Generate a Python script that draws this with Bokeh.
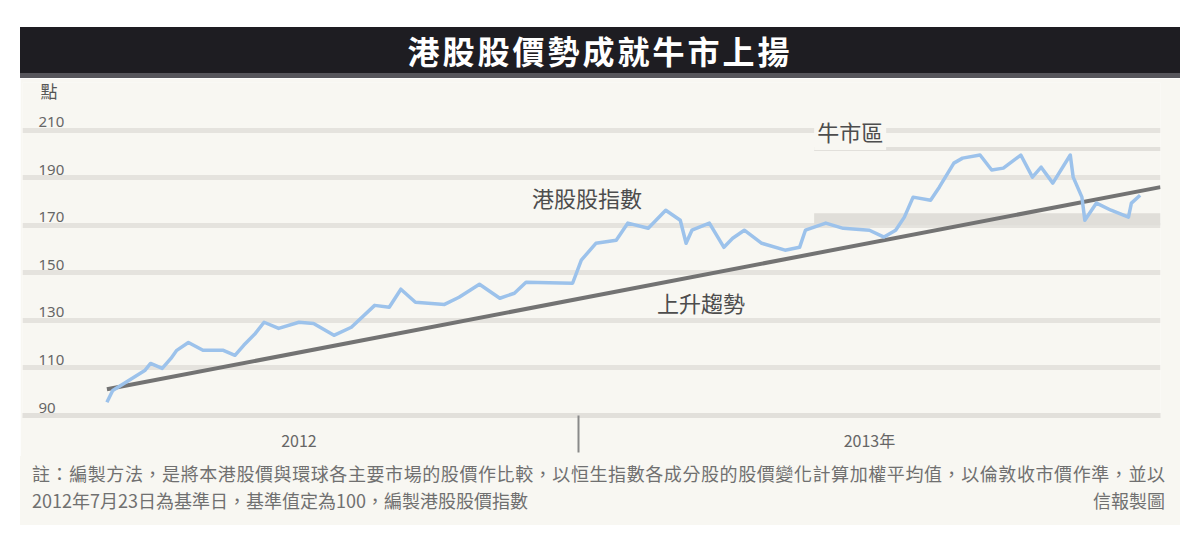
import pandas as pd
from bokeh.plotting import figure
from bokeh.models import Range1d, LinearAxis, FixedTicker, Grid, Label, Div, Spacer
from bokeh.layouts import column, row
from bokeh.core.properties import value
from bokeh.embed import file_html
from bokeh.resources import INLINE

# ---------------- data ----------------
title_text = "港股股價勢成就牛市上揚"
unit_label = "點"
base_date = "2012-07-23"

index_dates = [
    "2012-07-23", "2012-07-25", "2012-08-05", "2012-08-07", "2012-08-11", "2012-08-14",
    "2012-08-16", "2012-08-20", "2012-08-25", "2012-09-01", "2012-09-05", "2012-09-08",
    "2012-09-12", "2012-09-15", "2012-09-20", "2012-09-27", "2012-10-02", "2012-10-09",
    "2012-10-15", "2012-10-23", "2012-10-28", "2012-11-01", "2012-11-06", "2012-11-16",
    "2012-11-21", "2012-11-28", "2012-12-05", "2012-12-10", "2012-12-14", "2012-12-30",
    "2013-01-02", "2013-01-07", "2013-01-14", "2013-01-18", "2013-01-25", "2013-01-31",
    "2013-02-05", "2013-02-07", "2013-02-09", "2013-02-15", "2013-02-20", "2013-02-23",
    "2013-02-27", "2013-03-05", "2013-03-13", "2013-03-18", "2013-03-20", "2013-03-27",
    "2013-04-02", "2013-04-11", "2013-04-16", "2013-04-20", "2013-04-23", "2013-04-26",
    "2013-05-02", "2013-05-05", "2013-05-10", "2013-05-13", "2013-05-19", "2013-05-23",
    "2013-05-27", "2013-06-02", "2013-06-06", "2013-06-09", "2013-06-13", "2013-06-19",
    "2013-06-20", "2013-06-23", "2013-06-24", "2013-06-28", "2013-07-03", "2013-07-09",
    "2013-07-10", "2013-07-13",
]
index_values = [
    95.6, 100.5, 108.9, 111.9, 109.8, 114.0,
    117.4, 120.7, 117.4, 117.4, 115.3, 119.5,
    124.5, 129.2, 126.6, 129.2, 128.7, 123.7,
    127.1, 136.3, 135.5, 143.1, 137.6, 136.7,
    139.7, 145.2, 139.3, 141.4, 146.0, 145.6,
    155.3, 162.4, 163.7, 170.9, 168.7, 176.3,
    172.1, 162.4, 167.9, 170.9, 160.7, 164.5,
    167.9, 162.4, 159.5, 160.7, 167.9, 170.9,
    168.7, 167.9, 165.0, 167.9, 173.4, 181.8,
    180.5, 186.0, 196.1, 198.2, 199.5, 193.2,
    194.0, 199.5, 190.2, 194.4, 187.7, 199.5,
    190.2, 181.8, 172.1, 179.3, 176.3, 173.4,
    179.3, 182.6,
]

trend_dates = ["2012-07-23", "2013-07-20"]
trend_values = [101.0, 186.0]

y_ticks = [90, 110, 130, 150, 170, 190, 210]
year_labels = ["2012", "2013年"]
year_divider = "2013-01-01"
x_start_date = "2012-06-24"
x_end_date = "2013-07-20"

bull_zone_start = "2013-03-23"
bull_zone_band = [170, 175]
bull_zone_top = 202

series_labels = ["港股股指數", "上升趨勢", "牛市區"]
label_dates = ["2012-12-15", "2013-01-27", "2013-03-23"]
label_values = [182.0, 137.6, 209.6]

footnote_line1 = ("註：編製方法，是將本港股價與環球各主要市場的股價作比較，以恒生指數各成分股"
                  "的股價變化計算加權平均值，以倫敦收市價作準，並以")
footnote_line2 = "2012年7月23日為基準日，基準值定為100，編製港股股價指數"
source_note = "信報製圖"

# ---------------- helpers ----------------
def day(d):
    return (pd.Timestamp(d) - pd.Timestamp(base_date)).days

CREAM = "#f8f7f2"
FONT = "Noto Sans CJK TC"

xs = [day(d) for d in index_dates]
x_start, x_end = day(x_start_date), day(x_end_date)
divider = day(year_divider)
mid_2012 = int(round((x_start + divider) / 2))
mid_2013 = int(round((divider + x_end) / 2))

# ---------------- title bar ----------------
title_div = Div(
    text=title_text, width=1160, height=51, margin=0,
    styles={
        "background-color": "#1e1d22", "color": "#ffffff", "font-size": "32px",
        "font-weight": "bold", "font-family": f"'{FONT}', sans-serif",
        "text-align": "center", "line-height": "46px",
        "border-bottom": "5px solid #56555b", "box-sizing": "border-box",
        "letter-spacing": "3px",
    },
)

# ---------------- main chart ----------------
p = figure(
    width=1160, height=378, margin=0,
    x_range=Range1d(x_start, x_end), y_range=Range1d(90, 230),
    x_axis_location=None, y_axis_location=None,
    min_border_left=2, min_border_right=20, min_border_top=4, min_border_bottom=41,
    background_fill_color=CREAM, border_fill_color=CREAM, outline_line_color=None,
    toolbar_location=None, output_backend="svg",
)
p.center = []  # drop default grids

p.add_layout(Grid(dimension=1, ticker=FixedTicker(ticks=y_ticks),
                  grid_line_color="#e5e3de", grid_line_width=5), "center")

# bull zone band
p.quad(left=[day(bull_zone_start)], right=[x_end], bottom=[bull_zone_band[0]],
       top=[bull_zone_band[1]], fill_color="#e0ded9", line_color=None)
p.segment(x0=[day(bull_zone_start)], x1=[x_end], y0=[bull_zone_top], y1=[bull_zone_top],
          line_color="#e2e0db", line_width=4)

# x axis: year labels centred in each year span, divider as minor tick
xaxis = LinearAxis(
    ticker=FixedTicker(ticks=[mid_2012, mid_2013], minor_ticks=[divider]),
    major_label_overrides={mid_2012: year_labels[0], mid_2013: year_labels[1]},
    major_tick_out=0, major_tick_in=0, minor_tick_in=0, minor_tick_out=37,
    minor_tick_line_color="#8a8a8a", minor_tick_line_width=2,
    axis_line_color="#e2e0db", axis_line_width=5,
    major_label_standoff=-25, major_label_text_font_size="16px",
    major_label_text_color="#666666", major_label_text_font=FONT,
)
p.add_layout(xaxis, "below")

# y tick labels above grid lines
p.text(x=[x_start] * len(y_ticks), y=y_ticks, text=[str(t) for t in y_ticks],
       text_font=value("Noto Sans"), text_font_size="15px", text_color="#666666",
       text_baseline="bottom", text_align="left", x_offset=16, y_offset=-3)
p.text(x=[x_start], y=[y_ticks[-1]], text=[unit_label],
       text_font=value(FONT), text_font_size="17px", text_color="#555555",
       text_baseline="bottom", text_align="left", x_offset=18, y_offset=-27)

# trend line and index line
p.line([day(d) for d in trend_dates], trend_values, line_color="#737373", line_width=4)
p.line(xs, index_values, line_color="#9cc2eb", line_width=3.5, line_join="round")

# series labels
for txt, d, v, bg in zip(series_labels, label_dates, label_values, [None, None, CREAM]):
    p.add_layout(Label(
        x=day(d), y=v, text=txt, text_font=FONT, text_font_size="22px",
        text_color="#4d4d4d", text_baseline="middle", text_align="left",
        background_fill_color=bg, padding=3,
    ))

# ---------------- footnote ----------------
foot_html = (
    "<div style='width:1133px'>"
    f"<div style='text-align:justify;text-align-last:justify'>{footnote_line1}</div>"
    f"<div style='display:flex;justify-content:space-between'>"
    f"<span>{footnote_line2}</span><span>{source_note}</span></div>"
    "</div>"
)
foot_div = Div(
    text=foot_html, width=1160, height=69, margin=0,
    styles={
        "background-color": CREAM, "color": "#707070", "font-size": "18px",
        "font-family": f"'{FONT}', sans-serif", "line-height": "27px",
        "padding": "4px 15px 0 12px", "box-sizing": "border-box",
    },
)

inner = column(Spacer(width=10, height=27, margin=0), title_div, p, foot_div,
               spacing=0, margin=0)
layout = row(Spacer(width=20, height=10, margin=0), inner, spacing=0, margin=0)

with open("out.html", "w") as f:
    f.write(file_html(layout, INLINE))
